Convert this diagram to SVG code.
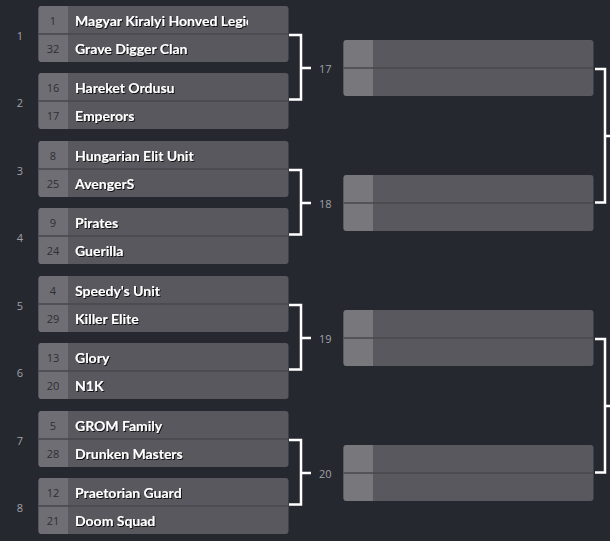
<svg xmlns="http://www.w3.org/2000/svg" width="610" height="541" viewBox="0 0 610 541">
<style>
.bg{fill:#262830}
.box{fill:#58585e}
.seedc{fill:#6e6e74}
.seedc2{fill:#77777c}
.div{stroke:#47474d;stroke-width:1.5}
.seed{font-family:"Open Sans","Liberation Sans",sans-serif;font-size:11px;fill:#2e2e34;text-anchor:middle;dominant-baseline:central}
.team{font-family:Lato,"Liberation Sans",sans-serif;font-size:14px;font-weight:700;fill:#ffffff;dominant-baseline:central;filter:url(#sh)}
.rn{font-family:"Open Sans","Liberation Sans",sans-serif;font-size:11px;fill:#a0a1a6;dominant-baseline:central}
.br{fill:none;stroke:#ffffff;stroke-width:2.5}
</style>
<defs>
<filter id="sh" x="-10%" y="-30%" width="120%" height="160%"><feDropShadow dx="1" dy="1" stdDeviation="0.4" flood-color="#000" flood-opacity="0.8"/></filter>
<clipPath id="cl"><rect x="68" y="0" width="180" height="541"/></clipPath>
</defs>
<rect class="bg" width="610" height="541"/>

<g id="connectors">
<path class="br" d="M289,35 H301 V99.5 H289 M301,68 H311"/>
<path class="br" d="M289,170 H301 V234.5 H289 M301,203 H311"/>
<path class="br" d="M289,305 H301 V369.5 H289 M301,338 H311"/>
<path class="br" d="M289,440 H301 V504.5 H289 M301,473 H311"/>
<path class="br" d="M595,69 H605 V202.5 H595 M605,136 H610"/>
<path class="br" d="M595,339 H605 V472.5 H595 M605,406 H610"/>
</g>

<g id="labels">
<text class="rn" x="20" y="35" text-anchor="middle">1</text>
<text class="rn" x="20" y="102" text-anchor="middle">2</text>
<text class="rn" x="20" y="170" text-anchor="middle">3</text>
<text class="rn" x="20" y="237" text-anchor="middle">4</text>
<text class="rn" x="20" y="305" text-anchor="middle">5</text>
<text class="rn" x="20" y="372" text-anchor="middle">6</text>
<text class="rn" x="20" y="440" text-anchor="middle">7</text>
<text class="rn" x="20" y="507" text-anchor="middle">8</text>
<text class="rn" x="319" y="68">17</text>
<text class="rn" x="319" y="203">18</text>
<text class="rn" x="319" y="338">19</text>
<text class="rn" x="319" y="473">20</text>
</g>

<g id="m1">
<rect class="box" x="38.5" y="6" width="250" height="56" rx="3"/>
<path class="seedc" d="M41.5,6 H68 V62 H41.5 A3,3 0 0 1 38.5,59 V9 A3,3 0 0 1 41.5,6 Z"/>
<line class="div" x1="38.5" y1="34" x2="288.5" y2="34"/>
<text class="seed" x="53" y="20">1</text>
<text class="seed" x="53" y="48">32</text>
<g clip-path="url(#cl)"><text class="team" x="75" y="20">Magyar Kiralyi Honved Legie</text></g>
<text class="team" x="75" y="48">Grave Digger Clan</text>
</g>

<g id="m2">
<rect class="box" x="38.5" y="73" width="250" height="56" rx="3"/>
<path class="seedc" d="M41.5,73 H68 V129 H41.5 A3,3 0 0 1 38.5,126 V76 A3,3 0 0 1 41.5,73 Z"/>
<line class="div" x1="38.5" y1="101" x2="288.5" y2="101"/>
<text class="seed" x="53" y="87">16</text>
<text class="seed" x="53" y="115">17</text>
<text class="team" x="75" y="87">Hareket Ordusu</text>
<text class="team" x="75" y="115">Emperors</text>
</g>

<g id="m3">
<rect class="box" x="38.5" y="141" width="250" height="56" rx="3"/>
<path class="seedc" d="M41.5,141 H68 V197 H41.5 A3,3 0 0 1 38.5,194 V144 A3,3 0 0 1 41.5,141 Z"/>
<line class="div" x1="38.5" y1="169" x2="288.5" y2="169"/>
<text class="seed" x="53" y="155">8</text>
<text class="seed" x="53" y="183">25</text>
<text class="team" x="75" y="155">Hungarian Elit Unit</text>
<text class="team" x="75" y="183">AvengerS</text>
</g>

<g id="m4">
<rect class="box" x="38.5" y="208" width="250" height="56" rx="3"/>
<path class="seedc" d="M41.5,208 H68 V264 H41.5 A3,3 0 0 1 38.5,261 V211 A3,3 0 0 1 41.5,208 Z"/>
<line class="div" x1="38.5" y1="236" x2="288.5" y2="236"/>
<text class="seed" x="53" y="222">9</text>
<text class="seed" x="53" y="250">24</text>
<text class="team" x="75" y="222">Pirates</text>
<text class="team" x="75" y="250">Guerilla</text>
</g>

<g id="m5">
<rect class="box" x="38.5" y="276" width="250" height="56" rx="3"/>
<path class="seedc" d="M41.5,276 H68 V332 H41.5 A3,3 0 0 1 38.5,329 V279 A3,3 0 0 1 41.5,276 Z"/>
<line class="div" x1="38.5" y1="304" x2="288.5" y2="304"/>
<text class="seed" x="53" y="290">4</text>
<text class="seed" x="53" y="318">29</text>
<text class="team" x="75" y="290">Speedy's Unit</text>
<text class="team" x="75" y="318">Killer Elite</text>
</g>

<g id="m6">
<rect class="box" x="38.5" y="343" width="250" height="56" rx="3"/>
<path class="seedc" d="M41.5,343 H68 V399 H41.5 A3,3 0 0 1 38.5,396 V346 A3,3 0 0 1 41.5,343 Z"/>
<line class="div" x1="38.5" y1="371" x2="288.5" y2="371"/>
<text class="seed" x="53" y="357">13</text>
<text class="seed" x="53" y="385">20</text>
<text class="team" x="75" y="357">Glory</text>
<text class="team" x="75" y="385">N1K</text>
</g>

<g id="m7">
<rect class="box" x="38.5" y="411" width="250" height="56" rx="3"/>
<path class="seedc" d="M41.5,411 H68 V467 H41.5 A3,3 0 0 1 38.5,464 V414 A3,3 0 0 1 41.5,411 Z"/>
<line class="div" x1="38.5" y1="439" x2="288.5" y2="439"/>
<text class="seed" x="53" y="425">5</text>
<text class="seed" x="53" y="453">28</text>
<text class="team" x="75" y="425">GROM Family</text>
<text class="team" x="75" y="453">Drunken Masters</text>
</g>

<g id="m8">
<rect class="box" x="38.5" y="478" width="250" height="56" rx="3"/>
<path class="seedc" d="M41.5,478 H68 V534 H41.5 A3,3 0 0 1 38.5,531 V481 A3,3 0 0 1 41.5,478 Z"/>
<line class="div" x1="38.5" y1="506" x2="288.5" y2="506"/>
<text class="seed" x="53" y="492">12</text>
<text class="seed" x="53" y="520">21</text>
<text class="team" x="75" y="492">Praetorian Guard</text>
<text class="team" x="75" y="520">Doom Squad</text>
</g>

<g id="m17">
<rect class="box" x="343.5" y="40" width="250" height="56" rx="3"/>
<path class="seedc2" d="M346.5,40 H373 V96 H346.5 A3,3 0 0 1 343.5,93 V43 A3,3 0 0 1 346.5,40 Z"/>
<line class="div" x1="343.5" y1="68" x2="593.5" y2="68"/>
</g>
<g id="m18">
<rect class="box" x="343.5" y="175" width="250" height="56" rx="3"/>
<path class="seedc2" d="M346.5,175 H373 V231 H346.5 A3,3 0 0 1 343.5,228 V178 A3,3 0 0 1 346.5,175 Z"/>
<line class="div" x1="343.5" y1="203" x2="593.5" y2="203"/>
</g>
<g id="m19">
<rect class="box" x="343.5" y="310" width="250" height="56" rx="3"/>
<path class="seedc2" d="M346.5,310 H373 V366 H346.5 A3,3 0 0 1 343.5,363 V313 A3,3 0 0 1 346.5,310 Z"/>
<line class="div" x1="343.5" y1="338" x2="593.5" y2="338"/>
</g>
<g id="m20">
<rect class="box" x="343.5" y="445" width="250" height="56" rx="3"/>
<path class="seedc2" d="M346.5,445 H373 V501 H346.5 A3,3 0 0 1 343.5,498 V448 A3,3 0 0 1 346.5,445 Z"/>
<line class="div" x1="343.5" y1="473" x2="593.5" y2="473"/>
</g>
</svg>
